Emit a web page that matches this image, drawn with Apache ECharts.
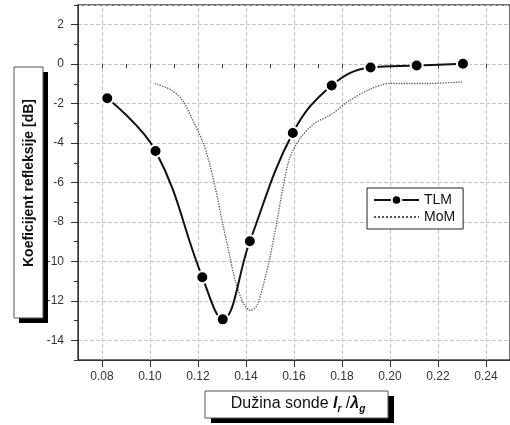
<!DOCTYPE html>
<html>
<head>
<meta charset="utf-8">
<script src="https://cdn.jsdelivr.net/npm/echarts@6/dist/echarts.min.js"></script>
<style>
html,body{margin:0;padding:0;background:#fff;}
#c{width:510px;height:425px;}
</style>
</head>
<body>
<div id="c"></div>
<script>
// TLM measured points
const tlmX = [0.0822, 0.1023, 0.1218, 0.1303, 0.1416, 0.1595, 0.1757, 0.1919, 0.2111, 0.2304];
const tlmY = [-1.73, -4.40, -10.80, -12.94, -8.98, -3.49, -1.08, -0.17, -0.07, 0.02];
// MoM curve samples
const momX = [0.102, 0.109, 0.1135, 0.1175, 0.122, 0.125, 0.128, 0.130, 0.133, 0.1355, 0.139, 0.142, 0.1445, 0.147, 0.150, 0.1527, 0.1555, 0.1584, 0.163, 0.1685, 0.1755, 0.1823, 0.1922, 0.200, 0.215, 0.230];
const momY = [-0.98, -1.32, -1.83, -2.76, -3.94, -5.13, -6.70, -7.93, -9.60, -10.96, -12.15, -12.49, -12.24, -11.30, -9.78, -8.10, -6.20, -4.70, -3.69, -3.01, -2.55, -1.91, -1.24, -0.98, -0.98, -0.90];
// major x tick values (vertical grid lines)
const xTicks = [0.08, 0.10, 0.12, 0.14, 0.16, 0.18, 0.20, 0.22, 0.24];
const seriesNames = ['TLM', 'MoM'];
const xTitle = 'Dužina sonde ';
const yTitle = 'Koeficijent refleksije [dB]';

const FONT = '"Liberation Sans", Arial, sans-serif';
const chart = echarts.init(document.getElementById('c'), null, {renderer: 'canvas'});

const pairs = (xs, ys) => xs.map((x, i) => [x, ys[i]]);

const option = {
  animation: false,
  backgroundColor: '#fff',
  textStyle: {fontFamily: FONT},
  grid: {
    left: 78, top: 5, width: 436.5, height: 355,
    show: true, borderColor: '#444', borderWidth: 1.5
  },
  xAxis: [
    {
      type: 'value', min: 0.07, max: 0.25, splitNumber: 9, position: 'bottom',
      axisLine: {show: true, onZero: false, lineStyle: {color: '#333', width: 1}},
      axisTick: {show: true, inside: false, length: 7, lineStyle: {color: '#333', width: 1}},
      splitLine: {show: false},
      axisLabel: {show: true, showMinLabel: false, showMaxLabel: false, margin: 11, fontSize: 12, color: '#333', fontFamily: FONT,
        formatter: v => v.toFixed(2)}
    },
    {
      type: 'value', min: 0.07, max: 0.25, interval: 0.01, position: 'bottom',
      axisLine: {show: false}, axisLabel: {show: false}, splitLine: {show: false},
      axisTick: {show: true, length: 4, lineStyle: {color: '#333'}}
    }
  ],
  yAxis: [
    {
      type: 'value', min: -15, max: 3, splitNumber: 9, position: 'left',
      axisLine: {show: true, onZero: false, lineStyle: {color: '#333', width: 1}},
      axisTick: {show: true, inside: false, length: 7, lineStyle: {color: '#333', width: 1}},
      splitLine: {show: true, lineStyle: {color: '#c4c4c4', width: 1, type: 'dashed'}},
      axisLabel: {show: true, showMinLabel: false, showMaxLabel: false, margin: 14, fontSize: 12, color: '#333', fontFamily: FONT}
    },
    {
      type: 'value', min: -15, max: 3, interval: 1, position: 'left',
      axisLine: {show: false}, axisLabel: {show: false}, splitLine: {show: false},
      axisTick: {show: true, length: 4, lineStyle: {color: '#333'}}
    }
  ],
  legend: {
    orient: 'vertical', left: 367, top: 188,
    backgroundColor: '#fff',
    borderColor: '#222', borderWidth: 1, padding: [5, 8, 5, 6],
    itemWidth: 45, itemHeight: 12, itemGap: 3,
    textStyle: {fontSize: 14, color: '#111', fontFamily: FONT},
    data: [
      {name: seriesNames[0]},
      {name: seriesNames[1], itemStyle: {color: 'rgba(0,0,0,0)', borderWidth: 0, opacity: 0}}
    ]
  },
  series: [
    {
      name: 'vgrid', type: 'line', xAxisIndex: 0, yAxisIndex: 0, data: [], z: 0, zlevel: 0, silent: true,
      markLine: {
        z: 0, silent: true, symbol: ['none', 'none'], label: {show: false},
        lineStyle: {color: '#c4c4c4', width: 1, type: 'dashed'},
        emphasis: {disabled: true},
        data: xTicks.map(v => ({xAxis: v}))
      }
    },
    {
      name: seriesNames[0], type: 'line', xAxisIndex: 0, yAxisIndex: 0, z: 4,
      data: pairs(tlmX, tlmY), smooth: 0.4,
      symbol: 'circle', symbolSize: 12,
      itemStyle: {color: '#000', borderColor: '#fff', borderWidth: 2},
      lineStyle: {color: '#111', width: 2}
    },
    {
      name: seriesNames[1], type: 'line', xAxisIndex: 0, yAxisIndex: 0, z: 3,
      data: pairs(momX, momY), smooth: 0.3,
      symbol: 'none', showSymbol: false,
      itemStyle: {color: '#555'},
      lineStyle: {color: '#555', width: 1.3, type: 'dotted'}
    }
  ],
  graphic: [
    {type: 'rect', shape: {x: 19, y: 72, width: 29, height: 251}, style: {fill: '#000'}, z: 100},
    {type: 'rect', shape: {x: 14, y: 67, width: 29, height: 251}, style: {fill: '#fff', stroke: '#555', lineWidth: 1}, z: 101},
    {type: 'text', x: 29, y: 183, rotation: Math.PI / 2, z: 102,
      style: {text: yTitle, font: 'bold 14px ' + FONT, fill: '#111', align: 'center', verticalAlign: 'middle'}},
    {type: 'rect', shape: {x: 211, y: 396, width: 183, height: 27}, style: {fill: '#000'}, z: 100},
    {type: 'rect', shape: {x: 205, y: 391, width: 183, height: 27}, style: {fill: '#fff', stroke: '#555', lineWidth: 1}, z: 101},
    {type: 'text', x: 298, y: 404, z: 102,
      style: {
        text: '{n|' + xTitle + '}{i|l}{s|r}{n| /}{i|λ}{s|g}',
        align: 'center', verticalAlign: 'middle',
        rich: {
          n: {fontSize: 16, fontFamily: FONT, fill: '#111', lineHeight: 20},
          i: {fontSize: 16, fontFamily: FONT, fontStyle: 'italic', fontWeight: 'bold', fill: '#111', lineHeight: 20},
          s: {fontSize: 10, fontFamily: FONT, fontStyle: 'italic', fontWeight: 'bold', fill: '#111', lineHeight: 20, verticalAlign: 'bottom', padding: [8, 0, 0, 0]}
        }
      }}
  ]
};
chart.setOption(option);
</script>
</body>
</html>
